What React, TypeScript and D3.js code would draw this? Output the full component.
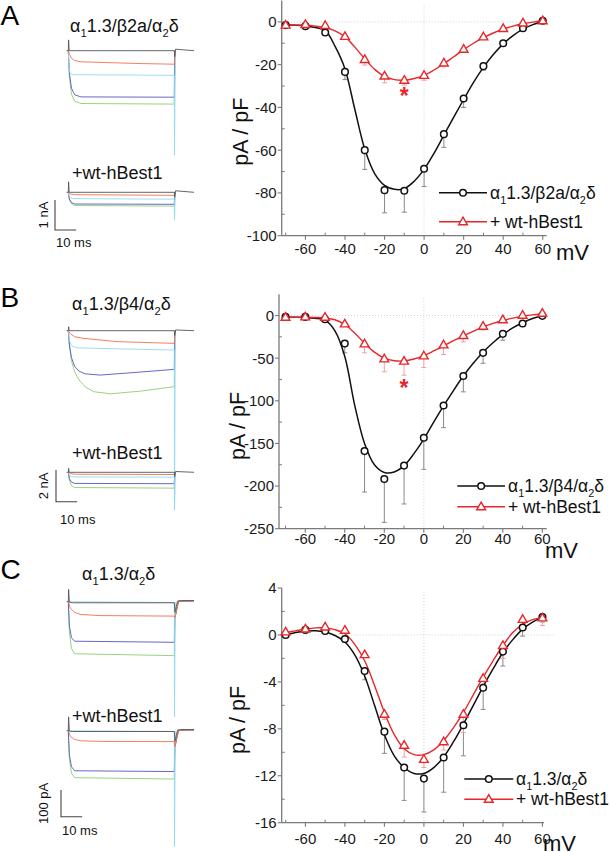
import React from "react";
import * as d3 from "d3";

const FONT = '"Liberation Sans", Arial, Helvetica, sans-serif';

// ---------- I-V data (mV, pA/pF) ----------
const voltages = [-70, -60, -50, -40, -30, -20, -10, 0, 10, 20, 30, 40, 50, 60];
const fitVoltages = [-70, -65, -60, -55, -50, -45, -40, -35, -30, -25, -20, -15, -10, -5, 0, 5, 10, 15, 20, 25, 30, 35, 40, 45, 50, 55, 60];

// Panel A: a1 1.3 / b2a / a2d
const aCtrlMean = [-1.5, -2, -5, -23.4, -60, -78.7, -79, -68.7, -52.5, -35.8, -20.7, -10, -3, 0.5];
const aCtrlSem = [0, 0, 0.5, 3.6, 9, 10.6, 10, 8.3, 6.2, 4.2, 1.9, 1.5, 0.5, 0];
const aBestMean = [-1.5, -1.2, -1.7, -6.8, -17.6, -25.3, -27.3, -25, -19.2, -12.8, -7, -3.1, -0.5, 0.5];
const aBestSem = [0, 0, 0.3, 0.8, 2.6, 3.2, 2.3, 2.3, 1.8, 1.2, 0.6, 0.4, 0.2, 0];
const aCtrlFit = [-1.5, -1.6, -1.9, -2.6, -4.0, -11.5, -22, -41, -59.5, -71, -76.5, -78.3, -78, -74.5, -69, -61.5, -53, -44.5, -36.3, -28.3, -21.3, -15.3, -10.3, -6.4, -3.4, -1.3, 0.3];
const aBestFit = [-1.5, -1.5, -1.6, -2.0, -2.7, -4.2, -7.0, -11.8, -17.3, -22.2, -25.5, -27.0, -27.3, -26.5, -25.0, -22.5, -19.6, -16.3, -13.0, -10.0, -7.4, -5.2, -3.4, -2.0, -0.9, -0.1, 0.4];

// Panel B: a1 1.3 / b4 / a2d
const bCtrlMean = [-1.6, -1.6, -4.3, -32.8, -159, -191.8, -176, -143.4, -105.5, -71, -43.8, -21.5, -9.4, -0.4];
const bCtrlSem = [0.5, 0.5, 1, 11, 48, 50.8, 45, 37, 26, 18.5, 12.2, 7.5, 3.1, 0.5];
const bBestMean = [-2, -1.6, -2, -9.8, -33.2, -50.8, -53.5, -47.3, -34.4, -23.4, -12.5, -5, 0.4, 2.7];
const bBestSem = [0.3, 0.3, 0.5, 2, 10.6, 15.2, 16.5, 13.7, 11.3, 7.6, 4.5, 3, 1, 0.5];
const bCtrlFit = [-2, -2, -2.3, -3.3, -5.5, -18, -48, -105, -150, -175, -184, -183.5, -176, -162, -145, -125, -106, -88, -71, -56, -43, -32, -22.5, -14.5, -8.5, -3.5, -0.5];
const bBestFit = [-2, -2, -2, -2.3, -3, -5, -10.5, -20.5, -32.5, -43, -50, -53, -53.3, -51, -47, -41.5, -35.5, -29.5, -24, -18.5, -13.5, -9.3, -5.8, -3, -0.8, 0.8, 1.8];

// Panel C: a1 1.3 / a2d
const cCtrlMean = [0, 0.43, 0.34, -0.34, -3.07, -8.24, -11.3, -12.24, -10.45, -7.7, -4.5, -1.42, 0.63, 1.53];
const cCtrlSem = [0, 0.1, 0.1, 0.3, 0.75, 1.85, 2.8, 2.85, 2.95, 2.6, 1.85, 1.23, 0.73, 0.43];
const cBestMean = [0.26, 0.5, 0.68, 0.4, -1.68, -6.76, -9.4, -10.6, -9.1, -6.76, -3.7, -0.9, 1.33, 1.45];
const cBestSem = [0.05, 0.1, 0.1, 0.15, 0.25, 0.45, 1.0, 0.7, 0.7, 1.55, 0.7, 1.1, 0.53, 0.65];
const cCtrlFit = [0.0, 0.2, 0.32, 0.35, 0.25, -0.05, -0.6, -1.7, -3.5, -6.0, -8.5, -10.3, -11.3, -11.8, -11.8, -11.3, -10.4, -9.1, -7.6, -6.0, -4.4, -2.9, -1.5, -0.4, 0.5, 1.1, 1.5];
const cBestFit = [0.2, 0.35, 0.5, 0.6, 0.6, 0.45, 0.1, -0.8, -2.2, -4.3, -6.6, -8.5, -9.7, -10.2, -10.2, -9.8, -9.0, -7.9, -6.6, -5.1, -3.6, -2.2, -0.9, 0.2, 0.9, 1.3, 1.45];

const xMajorTicks = [-60, -40, -20, 0, 20, 40, 60];
const xMinorTicks = [-70, -50, -30, -10, 10, 30, 50];
const aYMajor = [0, -20, -40, -60, -80, -100];
const aYMinor = [-10, -30, -50, -70, -90];
const bYMajor = [0, -50, -100, -150, -200, -250];
const bYMinor = [-25, -75, -125, -175, -225];
const cYMajor = [4, 0, -4, -8, -12, -16];
const cYMinor = [2, -2, -6, -10, -14];

type Part = [string, boolean];
const labelA: Part[] = [["α", false], ["1", true], ["1.3/β2a/α", false], ["2", true], ["δ", false]];
const labelB: Part[] = [["α", false], ["1", true], ["1.3/β4/α", false], ["2", true], ["δ", false]];
const labelC: Part[] = [["α", false], ["1", true], ["1.3/α", false], ["2", true], ["δ", false]];
const legendBest: Part[] = [["+ wt-hBest1", false]];
const traceBest: Part[] = [["+wt-hBest1", false]];

// ---------- current traces: [time ms, current] ----------
type P = [number, number];
// A (nA)
const a1Black: P[] = [[-0.8, 0], [0, 0], [0.15, 0.36], [0.4, 0], [50, 0], [50.2, -0.2], [50.6, 0.05], [59.3, 0]];
const a1Red: P[] = [[0, 0], [0.6, -0.12], [1.5, -0.25], [3, -0.33], [6, -0.37], [20, -0.4], [35, -0.43], [50, -0.45], [50.3, 0]];
const a1Cyan: P[] = [[0, 0], [0.25, -0.5], [0.8, -0.75], [2, -0.8], [50, -0.82], [50.1, -3.48], [50.5, 0]];
const a1Blue: P[] = [[0, 0], [0.5, -0.75], [1.5, -1.25], [3, -1.47], [6, -1.54], [50, -1.55], [50.3, 0]];
const a1Green: P[] = [[0, 0], [0.5, -0.85], [1.5, -1.45], [3, -1.68], [6, -1.76], [50, -1.78], [50.3, 0]];
const a2Black: P[] = [[-0.8, 0], [0, 0], [0.15, 0.35], [0.4, 0], [50, 0], [50.2, -0.15], [50.6, 0.05], [59.3, 0]];
const a2Red: P[] = [[0, 0], [1, -0.06], [3, -0.08], [50, -0.1], [50.3, 0]];
const a2Cyan: P[] = [[0, 0], [0.5, -0.15], [2, -0.21], [50, -0.23], [50.1, -0.92], [50.5, 0]];
const a2Blue: P[] = [[0, 0], [0.5, -0.22], [1.5, -0.34], [3, -0.39], [50, -0.4], [50.3, 0]];
const a2Green: P[] = [[0, 0], [0.5, -0.25], [1.5, -0.38], [3, -0.44], [50, -0.46], [50.3, 0]];
// B (nA)
const b1Black: P[] = [[-0.8, 0], [0, 0], [0.15, 0.25], [0.4, 0], [50, 0], [50.2, -0.3], [50.6, 0.05], [59.3, 0]];
const b1Red: P[] = [[0, 0], [1, -0.2], [3, -0.38], [7, -0.48], [23, -0.69], [50, -0.8], [50.3, 0]];
const b1Cyan: P[] = [[0, 0], [0.5, -0.6], [1.5, -0.95], [4, -1.08], [25, -1.15], [50, -1.22], [50.1, -11.3], [50.5, 0]];
const b1Blue: P[] = [[0, 0], [0.5, -0.9], [1.5, -1.7], [3, -2.25], [5, -2.55], [8, -2.72], [15, -2.8], [30, -2.65], [50, -2.44], [50.3, 0]];
const b1Green: P[] = [[0, 0], [0.5, -0.9], [1.5, -1.9], [3, -2.6], [5, -3.1], [8, -3.55], [12, -3.85], [20, -3.98], [35, -3.8], [50, -3.53], [50.3, 0]];
const b2Black: P[] = [[-0.8, 0], [0, 0], [0.15, 0.25], [0.4, 0], [50, 0], [50.2, -0.25], [50.6, 0.05], [59.3, 0]];
const b2Red: P[] = [[0, 0], [1, -0.08], [3, -0.12], [50, -0.14], [50.3, 0]];
const b2Cyan: P[] = [[0, 0], [0.5, -0.2], [2, -0.29], [50, -0.31], [50.1, -2.4], [50.5, 0]];
const b2Blue: P[] = [[0, 0], [0.5, -0.4], [1.5, -0.62], [3, -0.7], [50, -0.72], [50.3, 0]];
const b2Green: P[] = [[0, 0], [0.5, -0.5], [1.5, -0.85], [3, -0.96], [50, -1.0], [50.3, 0]];
// C (pA)
const c1Black: P[] = [[-0.8, 0], [0, 0], [0.15, 46], [0.5, -2], [2, -4], [50, -4], [50.3, -40], [51.5, 2], [53, 4], [59.3, 4]];
const c1Red: P[] = [[0, 0], [1, -25], [3, -40], [6, -48], [15, -52], [50, -54], [50.3, -60], [52, 2], [59.3, 3]];
const c1Cyan: P[] = [[0, 0], [50, -3], [50.1, -431], [50.5, 0]];
const c1Blue: P[] = [[0, 0], [0.5, -90], [1.5, -135], [3, -148], [50, -152], [50.3, -60], [52, 2], [59.3, 3]];
const c1Green: P[] = [[0, 0], [0.5, -110], [1.5, -175], [3, -195], [50, -202], [50.3, -60], [52, 2], [59.3, 3]];
const c2Black: P[] = [[-0.8, 0], [0, 0], [0.15, 52], [0.5, -2], [2, -3], [50, -3], [50.3, -40], [51.5, 2], [53, 4], [59.3, 4]];
const c2Red: P[] = [[0, 0], [1, -22], [3, -33], [6, -38], [15, -40], [50, -41], [50.3, -60], [52, 2], [59.3, 3]];
const c2Cyan: P[] = [[0, 0], [50, -3], [50.1, -434], [50.5, 0]];
const c2Blue: P[] = [[0, 0], [0.5, -90], [1.5, -135], [3, -150], [50, -153], [50.3, -60], [52, 2], [59.3, 3]];
const c2Green: P[] = [[0, 0], [0.5, -105], [1.5, -160], [3, -176], [50, -181], [50.3, -60], [52, 2], [59.3, 3]];

const TRACE_COLORS = { black: "#555555", red: "#f0704c", cyan: "#93d9ee", blue: "#5656c4", green: "#8ccf6c" };
const RED = "#e8262a";

function RichText({ parts, x, y, size, fill = "#111", anchor = "start" }: any) {
  let shifted = false;
  const sub = size * 0.3;
  return (
    <text x={x} y={y} fontSize={size} fontFamily={FONT} fill={fill} textAnchor={anchor}>
      {parts.map(([s, isSub]: Part, i: number) => {
        let dy = 0;
        if (isSub && !shifted) { dy = sub; shifted = true; }
        else if (!isSub && shifted) { dy = -sub; shifted = false; }
        return (
          <tspan key={i} dy={dy} fontSize={isSub ? size * 0.62 : size}>{s}</tspan>
        );
      })}
    </text>
  );
}

function Triangle({ cx, cy }: any) {
  return <path d={`M${cx},${cy - 4.6}L${cx + 4.4},${cy + 3}L${cx - 4.4},${cy + 3}Z`} fill="#fff" stroke={RED} strokeWidth={1.4} />;
}

function IVPanel({ cfg, d }: any) {
  const x = d3.scaleLinear().domain(cfg.xDomain).range([cfg.left, cfg.right]);
  const y = d3.scaleLinear().domain(cfg.yDomain).range([cfg.bottom, cfg.top]);
  const line = d3.line<number>()
    .x((_, i) => x(fitVoltages[i]))
    .y((v) => y(v))
    .curve(d3.curveCatmullRom.alpha(0.5));
  const axisColor = "#7a7a7a";
  return (
    <g>
      {/* zero lines */}
      <line x1={x(0)} x2={x(0)} y1={cfg.top + 4} y2={cfg.bottom} stroke="#c8c8c8" strokeWidth={0.8} strokeDasharray="1,2" />
      <line x1={cfg.left} x2={cfg.zeroRight} y1={y(0)} y2={y(0)} stroke="#c8c8c8" strokeWidth={0.8} strokeDasharray="1,2" />
      {/* axes */}
      <line x1={cfg.left} x2={cfg.left} y1={cfg.top} y2={cfg.bottom} stroke={axisColor} strokeWidth={1.3} />
      <line x1={cfg.left} x2={cfg.right} y1={cfg.bottom} y2={cfg.bottom} stroke={axisColor} strokeWidth={1.3} />
      {cfg.yMajor.map((v: number) => (
        <g key={"ym" + v}>
          <line x1={cfg.left - 4} x2={cfg.left} y1={y(v)} y2={y(v)} stroke={axisColor} strokeWidth={1.1} />
          <text x={cfg.left - 5} y={y(v)} dy="0.36em" textAnchor="end" fontSize={15} fontFamily={FONT} fill="#1a1a1a">{v}</text>
        </g>
      ))}
      {cfg.yMinor.map((v: number) => (
        <line key={"yn" + v} x1={cfg.left} x2={cfg.left + 3} y1={y(v)} y2={y(v)} stroke={axisColor} strokeWidth={1} />
      ))}
      {xMajorTicks.map((v) => (
        <g key={"xm" + v}>
          <line x1={x(v)} x2={x(v)} y1={cfg.bottom} y2={cfg.bottom + 4} stroke={axisColor} strokeWidth={1.1} />
          <text x={x(v)} y={cfg.xLabelY} textAnchor="middle" fontSize={15} fontFamily={FONT} fill="#1a1a1a">{v}</text>
        </g>
      ))}
      {xMinorTicks.map((v) => (
        <line key={"xn" + v} x1={x(v)} x2={x(v)} y1={cfg.bottom} y2={cfg.bottom - 3} stroke={axisColor} strokeWidth={1} />
      ))}
      {/* error bars */}
      {voltages.map((v, i) => d.ctrlSem[i] > 0 ? (
        <g key={"eb" + v} stroke="#8a8a8a" strokeWidth={1}>
          <line x1={x(v)} x2={x(v)} y1={y(d.ctrlMean[i])} y2={y(d.ctrlMean[i] - d.ctrlSem[i])} />
          <line x1={x(v) - 2.5} x2={x(v) + 2.5} y1={y(d.ctrlMean[i] - d.ctrlSem[i])} y2={y(d.ctrlMean[i] - d.ctrlSem[i])} />
        </g>
      ) : null)}
      {voltages.map((v, i) => d.bestSem[i] > 0 ? (
        <g key={"er" + v} stroke="#f2a0a0" strokeWidth={1}>
          <line x1={x(v)} x2={x(v)} y1={y(d.bestMean[i])} y2={y(d.bestMean[i] - d.bestSem[i])} />
          <line x1={x(v) - 2.5} x2={x(v) + 2.5} y1={y(d.bestMean[i] - d.bestSem[i])} y2={y(d.bestMean[i] - d.bestSem[i])} />
        </g>
      ) : null)}
      {/* fits */}
      <path d={line(d.ctrlFit) || ""} fill="none" stroke="#111" strokeWidth={1.5} />
      <path d={line(d.bestFit) || ""} fill="none" stroke={RED} strokeWidth={1.4} />
      {/* markers */}
      {voltages.map((v, i) => (
        <circle key={"c" + v} cx={x(v)} cy={y(d.ctrlMean[i])} r={3.3} fill="#fff" stroke="#111" strokeWidth={1.5} />
      ))}
      {voltages.map((v, i) => (
        <Triangle key={"t" + v} cx={x(v)} cy={y(d.bestMean[i])} />
      ))}
      {cfg.star ? (
        <text x={x(cfg.star[0])} y={y(cfg.star[1]) + 10} textAnchor="middle" fontSize={23} fontWeight="bold" fontFamily={FONT} fill={RED}>*</text>
      ) : null}
      {/* legend */}
      <line x1={cfg.legend.x0} x2={cfg.legend.x1} y1={cfg.legend.y1} y2={cfg.legend.y1} stroke="#111" strokeWidth={1.5} />
      <circle cx={(cfg.legend.x0 + cfg.legend.x1) / 2} cy={cfg.legend.y1} r={3.3} fill="#fff" stroke="#111" strokeWidth={1.5} />
      <RichText parts={d.label} x={cfg.legend.tx} y={cfg.legend.y1 + 6} size={17.5} />
      <line x1={cfg.legend.x0} x2={cfg.legend.x1} y1={cfg.legend.y2} y2={cfg.legend.y2} stroke={RED} strokeWidth={1.4} />
      <Triangle cx={(cfg.legend.x0 + cfg.legend.x1) / 2} cy={cfg.legend.y2} />
      <RichText parts={legendBest} x={cfg.legend.tx} y={cfg.legend.y2 + 6} size={17.5} />
      {/* axis titles */}
      <text transform={`translate(${cfg.ylab[0]},${cfg.ylab[1]}) rotate(-90)`} textAnchor="middle" fontSize={21.5} fontFamily={FONT} fill="#111">pA / pF</text>
      <text x={cfg.mv[0]} y={cfg.mv[1]} fontSize={22} fontFamily={FONT} fill="#111">mV</text>
    </g>
  );
}

function TraceSet({ s }: any) {
  const t = d3.scaleLinear().domain([0, 50]).range([68.3, 174.3]);
  const yI = d3.scaleLinear().domain([0, 1]).range([s.base, s.base - s.k]);
  const line = d3.line<P>().x((p) => t(p[0])).y((p) => yI(p[1]));
  const order: [P[], string][] = [[s.green, TRACE_COLORS.green], [s.blue, TRACE_COLORS.blue], [s.cyan, TRACE_COLORS.cyan], [s.red, TRACE_COLORS.red], [s.black, TRACE_COLORS.black]];
  return (
    <g fill="none" strokeWidth={0.9}>
      {order.map(([pts, col], i) => (
        <path key={i} d={line(pts) || ""} stroke={col} strokeLinejoin="round" />
      ))}
    </g>
  );
}

function ScaleBar({ sb }: any) {
  const t = d3.scaleLinear().domain([0, 50]).range([68.3, 174.3]);
  const yI = d3.scaleLinear().domain([0, 1]).range([0, sb.k]);
  const len = yI(sb.amp);
  const w = t(sb.ms) - t(0);
  return (
    <g>
      <path d={`M${sb.x},${sb.yBottom - len}V${sb.yBottom}H${sb.x + w}`} fill="none" stroke="#444" strokeWidth={1.1} />
      <text transform={`translate(${sb.lx},${sb.yBottom - len / 2}) rotate(-90)`} dy="0.36em" textAnchor="middle" fontSize={13} fontFamily={FONT} fill="#111">{sb.label}</text>
      <text x={sb.tx} y={sb.ty} fontSize={13} fontFamily={FONT} fill="#111">{`${sb.ms} ms`}</text>
    </g>
  );
}

const panelsIV = [
  {
    cfg: { left: 281.7, right: 546.7, top: 0.5, bottom: 235.7, xDomain: [-72, 62], yDomain: [-100, 10], yMajor: aYMajor, yMinor: aYMinor, xLabelY: 253.5, zeroRight: 547, ylab: [248, 131.7], mv: [556, 260], legend: { x0: 439, x1: 487, tx: 490, y1: 192.7, y2: 221.7 }, star: [-10, -33.8] },
    d: { ctrlMean: aCtrlMean, ctrlSem: aCtrlSem, bestMean: aBestMean, bestSem: aBestSem, ctrlFit: aCtrlFit, bestFit: aBestFit, label: labelA },
  },
  {
    cfg: { left: 279, right: 546.7, top: 294.2, bottom: 528.7, xDomain: [-73.3, 62.2], yDomain: [-250, 25], yMajor: bYMajor, yMinor: bYMinor, xLabelY: 543.5, zeroRight: 547, ylab: [245, 426], mv: [545, 558], legend: { x0: 457.3, x1: 505, tx: 508, y1: 486, y2: 506.7 }, star: [-10, -83] },
    d: { ctrlMean: bCtrlMean, ctrlSem: bCtrlSem, bestMean: bBestMean, bestSem: bBestSem, ctrlFit: bCtrlFit, bestFit: bBestFit, label: labelB },
  },
  {
    cfg: { left: 281.7, right: 544, top: 588, bottom: 822.7, xDomain: [-72, 60.8], yDomain: [-16, 4], yMajor: cYMajor, yMinor: cYMinor, xLabelY: 843.5, zeroRight: 555, ylab: [245, 720], mv: [543, 851], legend: { x0: 464.3, x1: 513.3, tx: 516, y1: 779, y2: 799.3 }, star: null },
    d: { ctrlMean: cCtrlMean, ctrlSem: cCtrlSem, bestMean: cBestMean, bestSem: cBestSem, ctrlFit: cCtrlFit, bestFit: cBestFit, label: labelC },
  },
];

const traceSets = [
  { base: 50.7, k: 30, black: a1Black, red: a1Red, cyan: a1Cyan, blue: a1Blue, green: a1Green },
  { base: 192.3, k: 30, black: a2Black, red: a2Red, cyan: a2Cyan, blue: a2Blue, green: a2Green },
  { base: 330.7, k: 15.85, black: b1Black, red: b1Red, cyan: b1Cyan, blue: b1Blue, green: b1Green },
  { base: 472.3, k: 15.85, black: b2Black, red: b2Red, cyan: b2Cyan, blue: b2Blue, green: b2Green },
  { base: 601.7, k: 0.267, black: c1Black, red: c1Red, cyan: c1Cyan, blue: c1Blue, green: c1Green },
  { base: 730.7, k: 0.267, black: c2Black, red: c2Red, cyan: c2Cyan, blue: c2Blue, green: c2Green },
];

const scaleBars = [
  { x: 55, yBottom: 230, k: 30, amp: 1, ms: 10, label: "1 nA", lx: 43, tx: 56, ty: 246.5 },
  { x: 56, yBottom: 501.7, k: 15.85, amp: 2, ms: 10, label: "2 nA", lx: 43, tx: 60, ty: 523.5 },
  { x: 61, yBottom: 816.7, k: 0.267, amp: 100, ms: 10, label: "100 pA", lx: 43, tx: 62, ty: 835 },
];

const traceLabels = [
  { parts: labelA, x: 70, y: 31.5 },
  { parts: traceBest, x: 72, y: 178.5 },
  { parts: labelB, x: 72, y: 309.5 },
  { parts: traceBest, x: 72, y: 458.5 },
  { parts: labelC, x: 82, y: 579.5 },
  { parts: traceBest, x: 72, y: 721.5 },
];

const panelLetters = [
  { t: "A", y: 25 },
  { t: "B", y: 307 },
  { t: "C", y: 579 },
];

export default function App() {
  return (
    <svg width={612} height={852} viewBox="0 0 612 852" style={{ position: "absolute", left: 0, top: 0, background: "#fff" }}>
      <rect x={0} y={0} width={612} height={852} fill="#fff" />
      {panelLetters.map((p) => (
        <text key={p.t} x={0.5} y={p.y} fontSize={28} fontFamily={FONT} fill="#000">{p.t}</text>
      ))}
      {traceSets.map((s, i) => <TraceSet key={i} s={s} />)}
      {scaleBars.map((sb, i) => <ScaleBar key={i} sb={sb} />)}
      {traceLabels.map((l, i) => <RichText key={i} parts={l.parts} x={l.x} y={l.y} size={18} />)}
      {panelsIV.map((p, i) => <IVPanel key={i} cfg={p.cfg} d={p.d} />)}
    </svg>
  );
}
